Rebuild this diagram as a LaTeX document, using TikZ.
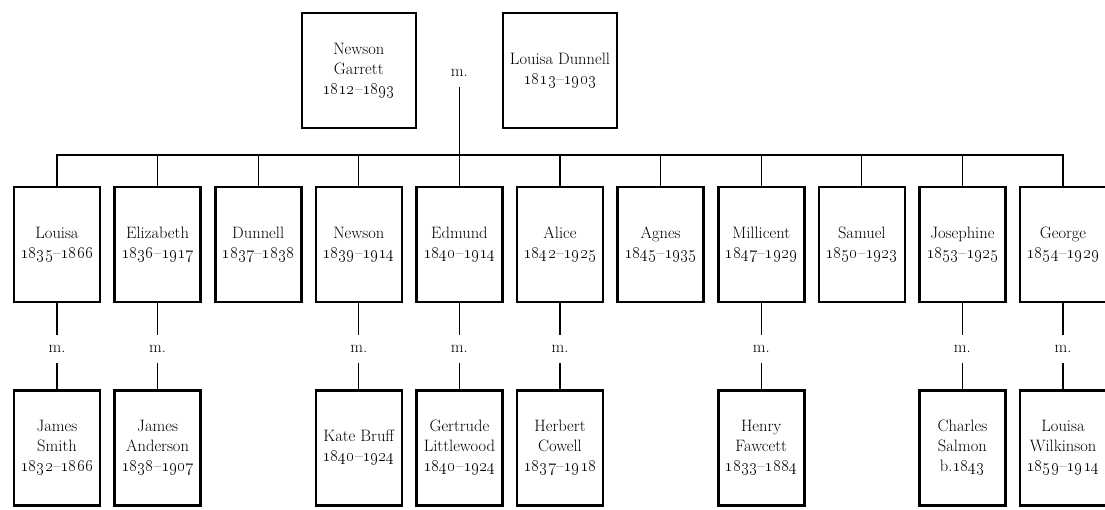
\documentclass[tikz,border=0pt]{standalone}
\usetikzlibrary{positioning}

\newcommand{\yrs}[2]{\oldstylenums{#1}--\oldstylenums{#2}}

\tikzset{
  person/.style={draw, line width=2.6pt, align=center, inner sep=1pt,
    minimum width=86pt, minimum height=115pt,
    font=\fontsize{16.5}{20}\selectfont},
  elder/.style={person, minimum width=114pt},
  wed/.style={inner xsep=2pt, inner ysep=10pt,
    font=\fontsize{16.5}{20}\selectfont},
  link/.style={line width=1.3pt},
}

\begin{document}
\begin{tikzpicture}[x=1pt, y=1pt, node distance=12pt]
  \useasboundingbox (0,0) rectangle (1105,-509);

  % children
  \node[person] (louisa) at (57,-244.5) {Louisa\\\yrs{1835}{1866}};
  \node[person, right=of louisa] (elizabeth) {Elizabeth\\\yrs{1836}{1917}};
  \node[person, right=of elizabeth] (dunnellj) {Dunnell\\\yrs{1837}{1838}};
  \node[person, right=of dunnellj] (newson) {Newson\\\yrs{1839}{1914}};
  \node[person, right=of newson] (edmund) {Edmund\\\yrs{1840}{1914}};
  \node[person, right=of edmund] (alice) {Alice\\\yrs{1842}{1925}};
  \node[person, right=of alice] (agnes) {Agnes\\\yrs{1845}{1935}};
  \node[person, right=of agnes] (millicent) {Millicent\\\yrs{1847}{1929}};
  \node[person, right=of millicent] (samuel) {Samuel\\\yrs{1850}{1923}};
  \node[person, right=of samuel] (josephine) {Josephine\\\yrs{1853}{1925}};
  \node[person, right=of josephine] (george) {George\\\yrs{1854}{1929}};

  % parents
  \node[elder] (garrett) at (newson.center |- 0,-70.5) {Newson\\Garrett\\\yrs{1812}{1893}};
  \node[elder] (dunnell) at (alice.center |- 0,-70.5) {Louisa Dunnell\\\yrs{1813}{1903}};
  \node[wed] (mtop) at (edmund.center |- 0,-73) {m.};

  % marriages
  \node[wed, below=32pt of louisa] (m1) {m.};
  \node[wed, below=32pt of elizabeth] (m2) {m.};
  \node[wed, below=32pt of newson] (m4) {m.};
  \node[wed, below=32pt of edmund] (m5) {m.};
  \node[wed, below=32pt of alice] (m6) {m.};
  \node[wed, below=32pt of millicent] (m8) {m.};
  \node[wed, below=32pt of josephine] (m10) {m.};
  \node[wed, below=32pt of george] (m11) {m.};

  % spouses
  \node[person, below=26pt of m1] (smith) {James\\Smith\\\yrs{1832}{1866}};
  \node[person, below=26pt of m2] (anderson) {James\\Anderson\\\yrs{1838}{1907}};
  \node[person, below=26pt of m4] (bruff) {Kate Bruff\\\yrs{1840}{1924}};
  \node[person, below=26pt of m5] (littlewood) {Gertrude\\Littlewood\\\yrs{1840}{1924}};
  \node[person, below=26pt of m6] (cowell) {Herbert\\Cowell\\\yrs{1837}{1918}};
  \node[person, below=26pt of m8] (fawcett) {Henry\\Fawcett\\\yrs{1833}{1884}};
  \node[person, below=26pt of m10] (salmon) {Charles\\Salmon\\b.\oldstylenums{1843}};
  \node[person, below=26pt of m11] (wilkinson) {Louisa\\Wilkinson\\\yrs{1859}{1914}};

  % descent
  \coordinate (bar) at (0,-155);
  \draw[link] (mtop) -- (edmund);
  \draw[link] (louisa.north) -- (louisa.north |- bar) -| (george.north);
  \foreach \kid in {elizabeth, dunnellj, newson, alice, agnes, millicent, samuel, josephine}
    \draw[link] (\kid.north) -- (\kid.north |- bar);

  \draw[link] (louisa) -- (m1) -- (smith);
  \draw[link] (elizabeth) -- (m2) -- (anderson);
  \draw[link] (newson) -- (m4) -- (bruff);
  \draw[link] (edmund) -- (m5) -- (littlewood);
  \draw[link] (alice) -- (m6) -- (cowell);
  \draw[link] (millicent) -- (m8) -- (fawcett);
  \draw[link] (josephine) -- (m10) -- (salmon);
  \draw[link] (george) -- (m11) -- (wilkinson);
\end{tikzpicture}
\end{document}
